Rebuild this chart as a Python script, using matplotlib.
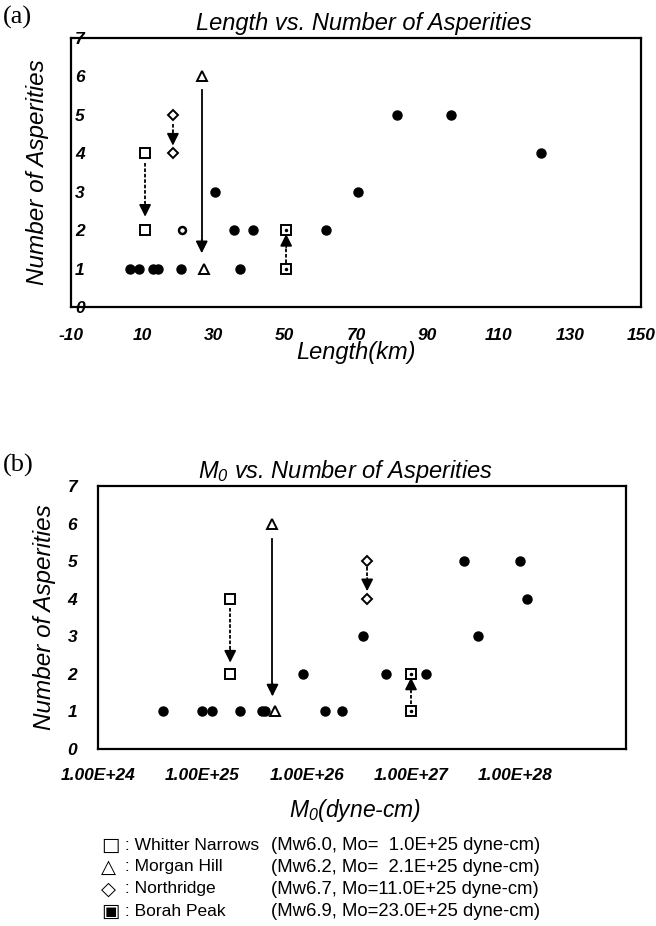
import matplotlib
matplotlib.use("Agg")
import matplotlib.pyplot as plt

plt.rcParams['font.family'] = ['Liberation Sans', 'DejaVu Sans']
plt.rcParams['mathtext.fontset'] = 'custom'
plt.rcParams['mathtext.it'] = 'Liberation Sans:italic'
plt.rcParams['mathtext.rm'] = 'Liberation Sans:italic'

# ---- (a) Length vs. number of asperities ----
len_other = [6.5, 9, 13, 14.5, 21, 37.4, 35.8, 41.2, 61.5, 30.4, 70.6, 81.4, 96.7, 122]
n_other_a = [1, 1, 1, 1, 1, 1, 2, 2, 2, 3, 3, 5, 5, 4]
len_odd = [21.2]
n_odd = [2]
wn_len = [10.8, 10.8]
mh_len = [26.7, 27.4]
nr_len = [18.6, 18.6]
bp_len = [50.4, 50.4]

# ---- (b) Mo vs. number of asperities ----
mo_other = [4.2e24, 1.0e25, 1.23e25, 2.3e25, 3.7e25, 4.0e25, 1.5e26, 2.2e26,
            9.3e25, 5.8e26, 1.4e27, 3.5e26, 4.4e27, 3.2e27, 1.1e28, 1.3e28]
n_other_b = [1, 1, 1, 1, 1, 1, 1, 1, 2, 2, 2, 3, 3, 5, 5, 4]
wn_mo = [1.85e25, 1.85e25]
mh_mo = [4.7e25, 5.0e25]
nr_mo = [3.8e26, 3.8e26]
bp_mo = [1.0e27, 1.0e27]

# asperity counts for the four events (before, after)
wn_n = [4, 2]
mh_n = [6, 1]
nr_n = [5, 4]
bp_n = [1, 2]

# arrows (start, tip)
arrows_a = {'wn': (3.75, 2.35), 'mh': (5.65, 1.4), 'nr': (4.75, 4.2), 'bp': (1.15, 1.9)}
arrows_b = {'wn': (3.75, 2.3), 'mh': (5.6, 1.4), 'nr': (4.85, 4.2), 'bp': (1.2, 1.9)}

len_ticks = [-10, 10, 30, 50, 70, 90, 110, 130, 150]
mo_ticks = [1e24, 1e25, 1e26, 1e27, 1e28]
mo_labels = ['1.00E+24', '1.00E+25', '1.00E+26', '1.00E+27', '1.00E+28']

legend_sym = ['\u25a1', '\u25b3', '\u25c7', '\u25a3']
legend_name = [': Whitter Narrows', ': Morgan Hill', ': Northridge', ': Borah Peak']
legend_info = ['(Mw6.0, Mo=  1.0E+25 dyne-cm)', '(Mw6.2, Mo=  2.1E+25 dyne-cm)',
               '(Mw6.7, Mo=11.0E+25 dyne-cm)', '(Mw6.9, Mo=23.0E+25 dyne-cm)']

W, H = 656, 926
fig = plt.figure(figsize=(W / 100, H / 100), dpi=100)


def px_axes(l, t, r, b):
    return fig.add_axes([l / W, 1 - b / H, (r - l) / W, (b - t) / H])


def draw_events(ax, xs, arrows):
    wn_x, mh_x, nr_x, bp_x = xs
    ax.plot(wn_x, wn_n, 's', ms=7, mfc='white', mec='black', mew=1.4, zorder=4)
    ax.plot(mh_x, mh_n, '^', ms=6.5, mfc='white', mec='black', mew=1.4, zorder=4)
    ax.plot(nr_x, nr_n, 'D', ms=5, mfc='white', mec='black', mew=1.4, zorder=4)
    ax.plot(bp_x, bp_n, 's', ms=7, mfc='white', mec='black', mew=1.4, zorder=4)
    ax.plot(bp_x, bp_n, '.', ms=3, color='black', zorder=5)
    for key, xv, style in [('wn', wn_x[0], (0, (2, 1))), ('mh', mh_x[0], '-'),
                           ('nr', nr_x[0], (0, (2, 1))), ('bp', bp_x[0], (0, (2, 1)))]:
        y0, y1 = arrows[key]
        step = 0.35 if y1 < y0 else -0.35
        ax.plot([xv, xv], [y0, y1 + step], color='black', lw=1.3, ls=style, zorder=3)
        ax.annotate('', xy=(xv, y1), xytext=(xv, y1 + step),
                    arrowprops=dict(arrowstyle='-|>', mutation_scale=18, color='black',
                                    lw=1.2, shrinkA=0, shrinkB=0), zorder=3)


tick_font = dict(fontsize=12.5, fontweight='bold', fontstyle='italic')

# panel (a)
ax1 = px_axes(71, 38, 641, 307)
ax1.plot(len_other, n_other_a, 'o', ms=6.5, color='black', zorder=4)
ax1.plot(len_odd, n_odd, 'o', ms=5, mfc='white', mec='black', mew=1.8, zorder=4)
draw_events(ax1, (wn_len, mh_len, nr_len, bp_len), arrows_a)
ax1.set_xlim(-10, 150)
ax1.set_ylim(0, 7)
ax1.set_xticks(len_ticks)
ax1.set_xticklabels([str(t) for t in len_ticks], **tick_font)
ax1.set_yticks(range(8))
ax1.set_yticklabels([str(t) for t in range(8)], **tick_font)
ax1.tick_params(axis='x', length=0, pad=15)
ax1.tick_params(axis='y', length=0, pad=-3)
for lbl in ax1.get_yticklabels():
    lbl.set_ha('left')
ax1.set_xlabel('Length(km)', fontsize=17, fontstyle='italic', labelpad=-1, x=0.5)
ax1.set_ylabel('Number of Asperities', fontsize=17.5, fontstyle='italic', labelpad=16)
ax1.set_title('Length vs. Number of Asperities', fontsize=17, fontstyle='italic',
              pad=6, x=0.514)
for s in ax1.spines.values():
    s.set_linewidth(1.6)

# panel (b)
ax2 = px_axes(98, 486, 626, 749)
ax2.set_xscale('log')
ax2.plot(mo_other, n_other_b, 'o', ms=6.5, color='black', zorder=4)
draw_events(ax2, (wn_mo, mh_mo, nr_mo, bp_mo), arrows_b)
ax2.set_xlim(1e24, 1.15e29)
ax2.set_ylim(0, 7)
ax2.set_xticks(mo_ticks)
ax2.set_xticklabels(mo_labels, fontsize=12.5, fontweight='bold', fontstyle='italic')
ax2.xaxis.set_minor_locator(matplotlib.ticker.NullLocator())
ax2.set_yticks(range(8))
ax2.set_yticklabels([str(t) for t in range(8)], **tick_font)
ax2.tick_params(axis='x', length=0, pad=14)
ax2.tick_params(axis='y', length=0, pad=15)
ax2.set_xlabel(r'$M_0$(dyne-cm)', fontsize=16.5, fontstyle='italic', labelpad=10, x=0.487)
ax2.set_ylabel('Number of Asperities', fontsize=17.5, fontstyle='italic', labelpad=8)
ax2.set_title(r'$M_0$ vs. Number of Asperities', fontsize=17, fontstyle='italic',
              pad=6, x=0.468)
for s in ax2.spines.values():
    s.set_linewidth(1.6)

# panel letters
fig.text(3 / W, 1 - 17 / H, '(a)', family='Liberation Serif', fontsize=19, va='center')
fig.text(3 / W, 1 - 465 / H, '(b)', family='Liberation Serif', fontsize=19, va='center')

# legend block
row_y = [845, 867, 889, 911]
for sym, name, info, y in zip(legend_sym, legend_name, legend_info, row_y):
    fig.text(101 / W, 1 - y / H, sym, family=['DejaVu Sans'], fontsize=14, va='center')
    fig.text(120 / W, 1 - y / H, ' ' + name, fontsize=12.5, va='center')
    fig.text(271 / W, 1 - y / H, info, fontsize=13.3, va='center')

fig.savefig('out.png', dpi=100)
